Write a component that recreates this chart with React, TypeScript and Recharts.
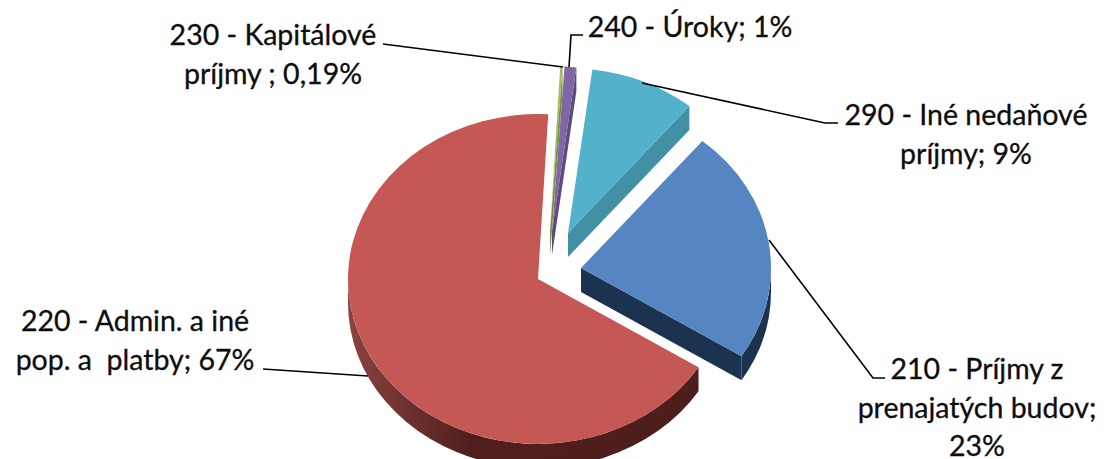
import React from 'react';
import { PieChart, Pie } from 'recharts';

const categories = [
  '210 - Príjmy z prenajatých budov',
  '220 - Admin. a iné pop. a platby',
  '230 - Kapitálové príjmy',
  '240 - Úroky',
  '290 - Iné nedaňové príjmy',
];
const shares = [23, 67, 0.19, 1, 9];

const topColors = ['#5686c2', '#c55854', '#9bbb59', '#8166a6', '#52b1cb'];
const wallColors = ['#1c3350', 'url(#redWall)', '#76903f', '#5f4a80', '#4290a6'];

// the slices of the 3D pie are pulled apart by hand, same as in the workbook
const explode = [
  [23, -3],
  [-20, 8],
  [-8, -39],
  [-6, -40],
  [10, -38],
];

const TILT = 0.868;
const DEPTH = 24;

const labels = [
  { lines: ['210 - Príjmy z', 'prenajatých budov;', '23%'], x: 977, y: 379, line: '769,240 873,378 885,378' },
  { lines: ['220 - Admin. a iné', 'pop. a  platby; 67%'], x: 135, y: 331, line: '263,369 368,376' },
  { lines: ['230 - Kapitálové', 'príjmy ; 0,19%'], x: 273, y: 45, line: '383,44 563,67' },
  { lines: ['240 - Úroky; 1%'], x: 690, y: 37, line: '583,35 571,35 569,67' },
  { lines: ['290 - Iné nedaňové', 'príjmy; 9%'], x: 966, y: 125, line: '642,83 825,123 838,123' },
];

const data = categories.map((name, i) => ({ name, value: shares[i] }));

const Slice3D = (props: any) => {
  const { outerRadius: r, startAngle, endAngle, index } = props;
  const cx = props.cx + explode[index][0];
  const cy = props.cy + explode[index][1];
  // angles clockwise from the top of the pie
  const t0 = 90 - startAngle;
  const t1 = 90 - endAngle;
  const at = (t: number, dy = 0) => {
    const a = (t * Math.PI) / 180;
    return `${cx + r * Math.sin(a)} ${cy - r * TILT * Math.cos(a) + dy}`;
  };
  const arc = (from: number, to: number, sweep: number) =>
    `A ${r} ${r * TILT} 0 ${Math.abs(to - from) > 180 ? 1 : 0} ${sweep} `;

  const top = `M ${cx} ${cy} L ${at(t0)} ${arc(t0, t1, 1)}${at(t1)} Z`;

  const w0 = Math.max(t0, 90);
  const w1 = Math.min(t1, 270);
  const wall =
    w1 > w0
      ? `M ${at(w0)} ${arc(w0, w1, 1)}${at(w1)} L ${at(w1, DEPTH)} ${arc(w0, w1, 0)}${at(w0, DEPTH)} Z`
      : null;

  // only the small slices show their cut side, the big red one hides it
  const cut =
    t1 - t0 < 180
      ? `M ${cx} ${cy} L ${at(t1)} L ${at(t1, DEPTH)} L ${cx} ${cy + DEPTH} Z`
      : null;

  return (
    <g>
      {cut && <path d={cut} fill={wallColors[index]} />}
      {wall && <path d={wall} fill={wallColors[index]} />}
      <path d={top} fill={topColors[index]} />
    </g>
  );
};

const renderLabel = (props: any) => {
  const item = labels[props.index];
  return (
    <g key={item.x}>
      <polyline points={item.line} fill="none" stroke="#000" strokeWidth={1.6} />
      {item.lines.map((text, i) => (
        <text
          key={i}
          x={item.x}
          y={item.y + i * 38.7}
          textAnchor="middle"
          fill="#0d0d0d"
          stroke="#0d0d0d"
          strokeWidth={0.3}
          fontSize={28.5}
          fontFamily="Lato, 'Open Sans', sans-serif"
          style={{ whiteSpace: 'pre' }}
        >
          {text}
        </text>
      ))}
    </g>
  );
};

export default function App() {
  return (
    <div style={{ position: 'absolute', left: 0, top: 0, width: 1106, height: 459, overflow: 'hidden', background: '#fff' }}>
      <PieChart width={1106} height={459} margin={{ top: 0, right: 0, bottom: 0, left: 0 }}>
        <defs>
          <linearGradient id="redWall" x1="0" y1="0" x2="1" y2="0">
            <stop offset="0" stopColor="#8a4341" />
            <stop offset="0.35" stopColor="#4f1f1d" />
            <stop offset="1" stopColor="#4d1e1c" />
          </linearGradient>
        </defs>
        <Pie
          data={data}
          dataKey="value"
          nameKey="name"
          cx={558}
          cy={271}
          outerRadius={190}
          startAngle={50.3}
          endAngle={-309.7}
          stroke="none"
          shape={Slice3D}
          label={renderLabel}
          labelLine={false}
          isAnimationActive={false}
        />
      </PieChart>
    </div>
  );
}
